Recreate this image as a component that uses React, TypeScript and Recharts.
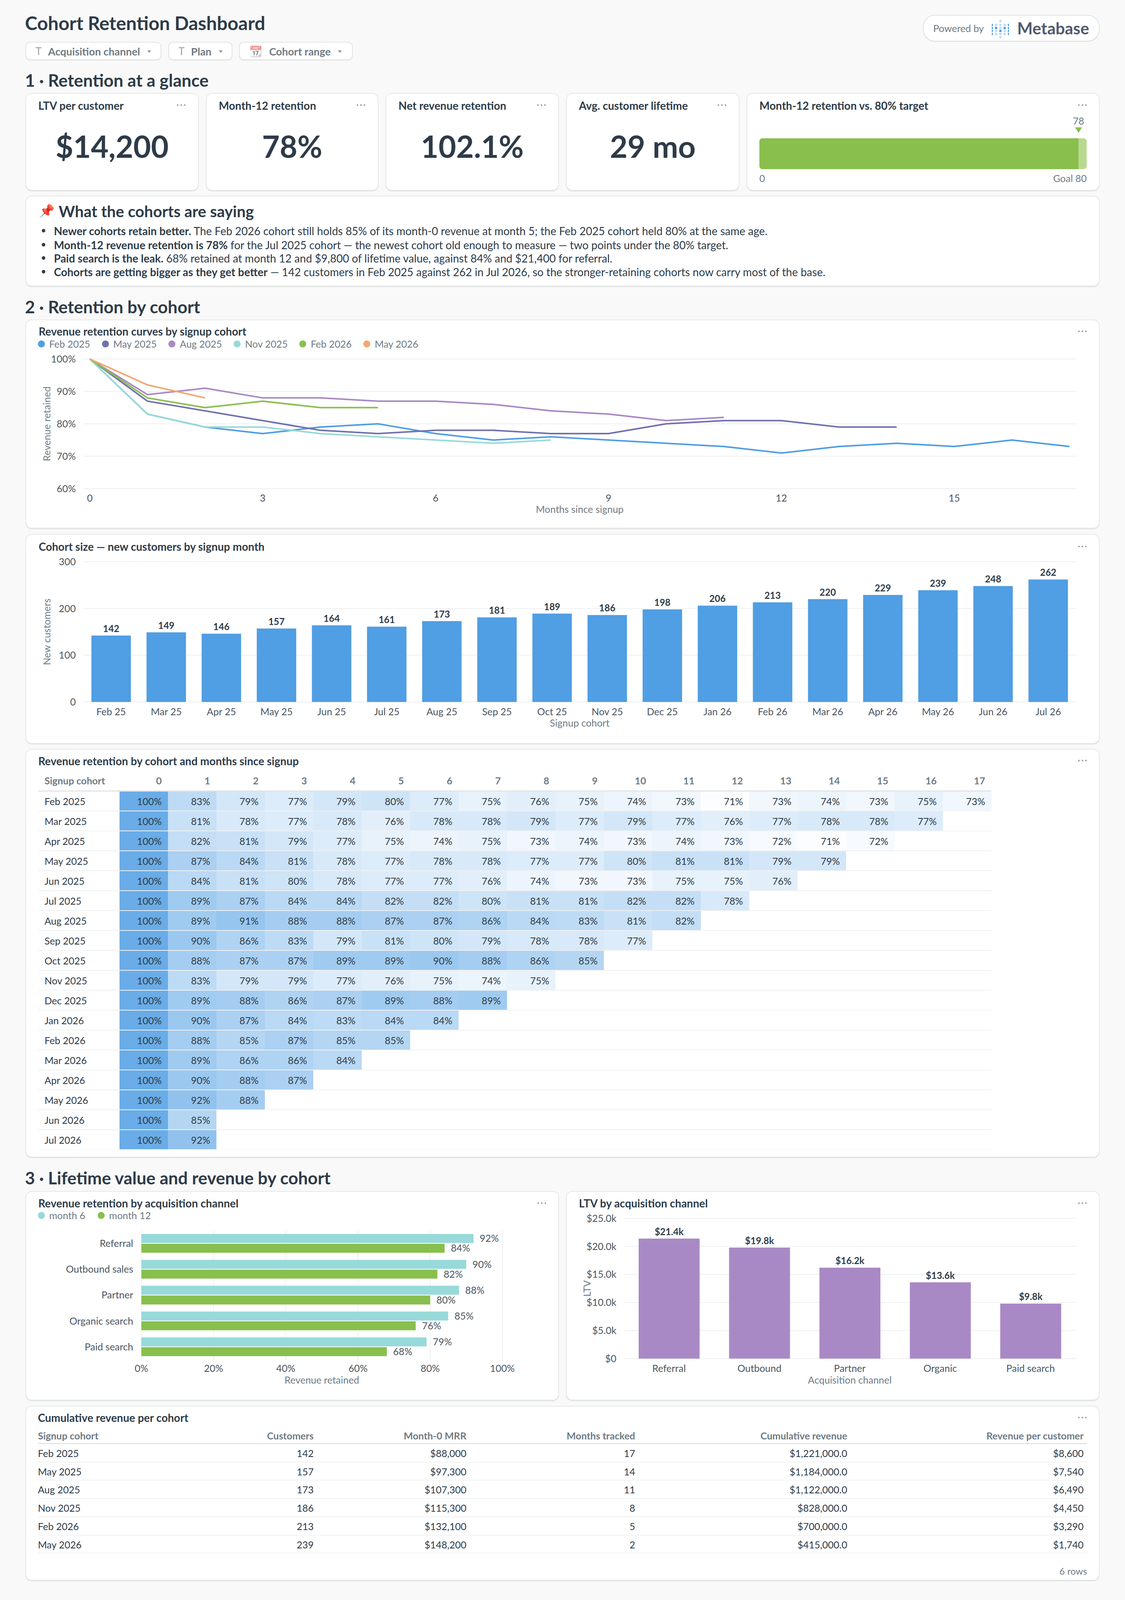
import React from 'react';
import {
  LineChart, Line, BarChart, Bar, XAxis, YAxis, CartesianGrid, LabelList, Label, Cell,
} from 'recharts';

// ---------- data ----------
const kpis = [
  { title: 'LTV per customer', value: '$14,200' },
  { title: 'Month-12 retention', value: '78%' },
  { title: 'Net revenue retention', value: '102.1%' },
  { title: 'Avg. customer lifetime', value: '29 mo' },
];
const gaugeValue = 78;
const gaugeGoal = 80;

const lineMonths = [0, 1, 2, 3, 4, 5, 6, 7, 8, 9, 10, 11, 12, 13, 14, 15, 16, 17];
const lineTicks = [0, 3, 6, 9, 12, 15];
const lineFeb25 = [100, 83, 79, 77, 79, 80, 77, 75, 76, 75, 74, 73, 71, 73, 74, 73, 75, 73];
const lineMay25 = [100, 87, 84, 81, 78, 77, 78, 78, 77, 77, 80, 81, 81, 79, 79];
const lineAug25 = [100, 89, 91, 88, 88, 87, 87, 86, 84, 83, 81, 82];
const lineNov25 = [100, 83, 79, 79, 77, 76, 75, 74, 75];
const lineFeb26 = [100, 88, 85, 87, 85, 85];
const lineMay26 = [100, 92, 88];
const lineSeries = [
  { name: 'Feb 2025', color: '#509EE3', values: lineFeb25 },
  { name: 'May 2025', color: '#7172AD', values: lineMay25 },
  { name: 'Aug 2025', color: '#A989C5', values: lineAug25 },
  { name: 'Nov 2025', color: '#98D9D9', values: lineNov25 },
  { name: 'Feb 2026', color: '#88BF4D', values: lineFeb26 },
  { name: 'May 2026', color: '#F2A86F', values: lineMay26 },
];

const sizeMonths = ['Feb 25', 'Mar 25', 'Apr 25', 'May 25', 'Jun 25', 'Jul 25', 'Aug 25', 'Sep 25', 'Oct 25', 'Nov 25', 'Dec 25', 'Jan 26', 'Feb 26', 'Mar 26', 'Apr 26', 'May 26', 'Jun 26', 'Jul 26'];
const sizeValues = [142, 149, 146, 157, 164, 161, 173, 181, 189, 186, 198, 206, 213, 220, 229, 239, 248, 262];

const heatCohorts = ['Feb 2025', 'Mar 2025', 'Apr 2025', 'May 2025', 'Jun 2025', 'Jul 2025', 'Aug 2025', 'Sep 2025', 'Oct 2025', 'Nov 2025', 'Dec 2025', 'Jan 2026', 'Feb 2026', 'Mar 2026', 'Apr 2026', 'May 2026', 'Jun 2026', 'Jul 2026'];
const heatFeb25 = [100, 83, 79, 77, 79, 80, 77, 75, 76, 75, 74, 73, 71, 73, 74, 73, 75, 73];
const heatMar25 = [100, 81, 78, 77, 78, 76, 78, 78, 79, 77, 79, 77, 76, 77, 78, 78, 77];
const heatApr25 = [100, 82, 81, 79, 77, 75, 74, 75, 73, 74, 73, 74, 73, 72, 71, 72];
const heatMay25 = [100, 87, 84, 81, 78, 77, 78, 78, 77, 77, 80, 81, 81, 79, 79];
const heatJun25 = [100, 84, 81, 80, 78, 77, 77, 76, 74, 73, 73, 75, 75, 76];
const heatJul25 = [100, 89, 87, 84, 84, 82, 82, 80, 81, 81, 82, 82, 78];
const heatAug25 = [100, 89, 91, 88, 88, 87, 87, 86, 84, 83, 81, 82];
const heatSep25 = [100, 90, 86, 83, 79, 81, 80, 79, 78, 78, 77];
const heatOct25 = [100, 88, 87, 87, 89, 89, 90, 88, 86, 85];
const heatNov25 = [100, 83, 79, 79, 77, 76, 75, 74, 75];
const heatDec25 = [100, 89, 88, 86, 87, 89, 88, 89];
const heatJan26 = [100, 90, 87, 84, 83, 84, 84];
const heatFeb26 = [100, 88, 85, 87, 85, 85];
const heatMar26 = [100, 89, 86, 86, 84];
const heatApr26 = [100, 90, 88, 87];
const heatMay26 = [100, 92, 88];
const heatJun26 = [100, 85];
const heatJul26 = [100, 92];
const heatRows = [heatFeb25, heatMar25, heatApr25, heatMay25, heatJun25, heatJul25, heatAug25, heatSep25, heatOct25, heatNov25, heatDec25, heatJan26, heatFeb26, heatMar26, heatApr26, heatMay26, heatJun26, heatJul26];
const heatColumns = lineMonths;

const channels = ['Referral', 'Outbound sales', 'Partner', 'Organic search', 'Paid search'];
const month6 = [92, 90, 88, 85, 79];
const month12 = [84, 82, 80, 76, 68];

const ltvChannels = ['Referral', 'Outbound', 'Partner', 'Organic', 'Paid search'];
const ltvValues = [21400, 19800, 16200, 13600, 9800];

const tableHeaders = ['Signup cohort', 'Customers', 'Month-0 MRR', 'Months tracked', 'Cumulative revenue', 'Revenue per customer'];
const tableCohorts = ['Feb 2025', 'May 2025', 'Aug 2025', 'Nov 2025', 'Feb 2026', 'May 2026'];
const tableCustomers = ['142', '157', '173', '186', '213', '239'];
const tableMrr = ['$88,000', '$97,300', '$107,300', '$115,300', '$132,100', '$148,200'];
const tableMonths = ['17', '14', '11', '8', '5', '2'];
const tableCumulative = ['$1,221,000.0', '$1,184,000.0', '$1,122,000.0', '$828,000.0', '$700,000.0', '$415,000.0'];
const tablePerCustomer = ['$8,600', '$7,540', '$6,490', '$4,450', '$3,290', '$1,740'];
const tableColumns = [tableCohorts, tableCustomers, tableMrr, tableMonths, tableCumulative, tablePerCustomer];

// ---------- style ----------
const DARK = '#2E3B48';
const MUTED = '#6E7A84';
const TICK = '#4A5560';
const GRID = '#EEEFF1';
const FONT = 'Lato, sans-serif';
const tickStyle = { fontSize: 25, fill: TICK, fontFamily: FONT };

// The browser's screen stops at 4096px, so the 5784px layout is fitted vertically into it.
const PAGE_H = 4096;
const sy = (v: number) => Math.round((v * PAGE_H) / 5784);
const ROW_H = 51;

// ---------- helpers ----------
function Txt({ x, y, right, center, size, weight = 400, color = DARK, children }: any) {
  const style: any = {
    position: 'absolute', top: y, fontSize: size, fontWeight: weight, color,
    lineHeight: 1, whiteSpace: 'nowrap', transform: 'translateY(-50%)',
  };
  if (right !== undefined) { style.right = 2880 - right; style.textAlign = 'right'; }
  else if (center !== undefined) { style.left = center; style.transform = 'translate(-50%,-50%)'; }
  else style.left = x;
  return <div style={style}>{children}</div>;
}
function Card({ x, y0, y1, w, r = 16 }: any) {
  return (
    <div style={{
      position: 'absolute', left: x, top: sy(y0), width: w, height: sy(y1) - sy(y0), boxSizing: 'border-box',
      background: '#fff', border: '2px solid #E6E8E8', borderRadius: r, boxShadow: '0 2px 1px #E2E4E4',
    }} />
  );
}
function Dots({ x, y }: any) {
  return (
    <svg style={{ position: 'absolute', left: x - 12, top: y - 4 }} width={24} height={8}>
      {[3, 12, 21].map((c) => <circle key={c} cx={c} cy={4} r={2} fill="#8E969D" />)}
    </svg>
  );
}
function Caret({ x, y }: any) {
  return (
    <svg style={{ position: 'absolute', left: x - 6, top: y - 4 }} width={12} height={8}>
      <path d="M1 1 L11 1 L6 7 Z" fill="#8B949B" />
    </svg>
  );
}
function Chip({ x, w, label, labelX, iconX, caretX, emoji }: any) {
  const cy = sy(185);
  return (
    <>
      <div style={{
        position: 'absolute', left: x, top: sy(151), width: w, height: sy(217) - sy(151), boxSizing: 'border-box',
        background: '#fff', border: '2px solid #E2E5E5', borderRadius: 12, boxShadow: '0 1px 1px #E2E4E4',
      }} />
      {emoji
        ? <div style={{ position: 'absolute', left: iconX - 14, top: cy - 14, fontSize: 27, lineHeight: 1, opacity: 0.55 }}>📆</div>
        : <Txt x={iconX - 7} y={cy} size={26} color="#9AA2A8">T</Txt>}
      <Txt x={labelX} y={cy} size={27} weight={700} color={MUTED}>{label}</Txt>
      <Caret x={caretX} y={cy + 1} />
    </>
  );
}
function Legend({ x, y, items, gap = 30 }: any) {
  return (
    <div style={{ position: 'absolute', left: x, top: y, transform: 'translateY(-50%)', display: 'flex', gap, alignItems: 'center' }}>
      {items.map((it: any) => (
        <div key={it.name} style={{ display: 'flex', alignItems: 'center', gap: 11 }}>
          <div style={{ width: 18, height: 18, borderRadius: 9, background: it.color }} />
          <div style={{ fontSize: 25, color: MUTED, lineHeight: 1 }}>{it.name}</div>
        </div>
      ))}
    </div>
  );
}
function Logo({ x, y }: any) {
  const rows = ['LLDLL', 'DLLLD', 'DDLDD', 'DLDLD', 'DLLLD', 'LLDLL'];
  const ys = [0, 9.8, 17.6, 25, 33, 41];
  const dots: any[] = [];
  rows.forEach((row, r) => {
    if (r === 0 || r === 5) {
      dots.push(<circle key={`c${r}`} cx={22} cy={ys[r] + 4} r={3.2} fill="#C5DCF3" />);
      return;
    }
    row.split('').forEach((c, i) => {
      dots.push(<circle key={`${r}-${i}`} cx={22 + (i - 2) * 11} cy={ys[r] + 4} r={3.2} fill={c === 'D' ? '#509EE3' : '#C5DCF3'} />);
    });
  });
  return <svg style={{ position: 'absolute', left: x, top: y }} width={44} height={50}>{dots}</svg>;
}
const xTitle = (text: string, dy: number) => (p: any) => (
  <text x={p.viewBox.x + p.viewBox.width / 2} y={p.viewBox.y + dy} textAnchor="middle" dominantBaseline="central" fontSize={25} fill={MUTED} fontFamily={FONT}>{text}</text>
);
const yTitle = (text: string, cx: number) => (p: any) => {
  const cy = p.viewBox.y + p.viewBox.height / 2;
  return (
    <text x={cx} y={cy} transform={`rotate(-90 ${cx} ${cy})`} textAnchor="middle" dominantBaseline="central" fontSize={25} fill={MUTED} fontFamily={FONT}>{text}</text>
  );
};
function heat(v: number) {
  const a = 0.02 + ((v - 71) / 29) * 0.84;
  return `rgba(80,158,227,${a.toFixed(3)})`;
}

// ---------- charts data tables ----------
const lineData = lineMonths.map((m) => {
  const row: any = { month: m };
  lineSeries.forEach((s) => { row[s.name] = s.values[m]; });
  return row;
});
const sizeData = sizeMonths.map((month, i) => ({ month, customers: sizeValues[i] }));
const heatData = heatCohorts.map((cohort, r) => {
  const row: any = { cohort };
  heatColumns.forEach((c) => {
    const v = heatRows[r][c];
    row[`s${c}`] = v === undefined ? 0 : 1;
    row[`v${c}`] = v === undefined ? null : v;
  });
  return row;
});
const channelData = channels.map((channel, i) => ({ channel, m6: month6[i], m12: month12[i] }));
const ltvData = ltvChannels.map((channel, i) => ({ channel, ltv: ltvValues[i] }));
const gaugeData = [{ name: 'Month-12', value: gaugeValue, rest: gaugeGoal - gaugeValue }];

const HeatYTick = (p: any) => (
  <g>
    {p.index === 0 && <line x1={34} x2={2474} y1={p.y - ROW_H / 2} y2={p.y - ROW_H / 2} stroke="#E2E4E5" strokeWidth={3} />}
    <line x1={34} x2={2474} y1={p.y + ROW_H / 2} y2={p.y + ROW_H / 2} stroke="#F0F1F2" strokeWidth={2} />
    <text x={50} y={p.y} dominantBaseline="central" fontSize={25} fill={DARK} fontFamily={FONT}>{p.payload.value}</text>
  </g>
);
const HeatXTick = (p: any) => (
  <text x={p.x - 16} y={sy(2822) - sy(2780)} textAnchor="end" dominantBaseline="central" fontSize={25} fontWeight={700} fill={MUTED} fontFamily={FONT}>{p.payload.value - 1}</text>
);
const HeatLabel = (p: any) => p.value == null ? null : (
  <text x={p.x + p.width - 16} y={p.y + p.height / 2} textAnchor="end" dominantBaseline="central" fontSize={25} fill={DARK} fontFamily={FONT}>{`${p.value}%`}</text>
);
const GaugeTick = (p: any) => {
  const isEnd = p.payload.value === gaugeGoal;
  return (
    <text x={p.x} y={p.y} textAnchor={isEnd ? 'end' : 'start'} dominantBaseline="central" fontSize={25} fill={MUTED} fontFamily={FONT}>
      {isEnd ? `Goal ${gaugeGoal}` : p.payload.value}
    </text>
  );
};
const GaugeMarker = (p: any) => {
  const cx = p.x + p.width;
  return (
    <g>
      <text x={cx} y={p.y - 45} textAnchor="middle" dominantBaseline="central" fontSize={25} fill={MUTED} fontFamily={FONT}>{p.value}</text>
      <path d={`M${cx - 9} ${p.y - 28} L${cx + 9} ${p.y - 28} L${cx} ${p.y - 14} Z`} fill="#88BF4D" />
    </g>
  );
};

const bullets = [
  ['Newer cohorts retain better.', ' The Feb 2026 cohort still holds 85% of its month-0 revenue at month 5; the Feb 2025 cohort held 80% at the same age.'],
  ['Month-12 revenue retention is 78%', ' for the Jul 2025 cohort — the newest cohort old enough to measure — two points under the 80% target.'],
  ['Paid search is the leak.', ' 68% retained at month 12 and $9,800 of lifetime value, against 84% and $21,400 for referral.'],
  ['Cohorts are getting bigger as they get better', ' — 142 customers in Feb 2025 against 262 in Jul 2026, so the stronger-retaining cohorts now carry most of the base.'],
];
const bulletYs = [835, 885, 933, 983];
const kpiCards = [[65, 444], [527, 442], [987, 444], [1449, 444]];
const tableRight = [0, 803, 1194, 1626, 2169, 2774];

const AXIS_H = sy(90) + 16;
const Chart = ({ left, top, children }: any) => <div style={{ position: 'absolute', left, top: sy(top) }}>{children}</div>;

export default function App() {
  return (
    <div style={{ position: 'relative', width: 2880, height: PAGE_H, background: '#F9F9F9', fontFamily: FONT, overflow: 'hidden' }}>
      <style>{'html,body{margin:0;padding:0;background:#F9F9F9;overflow:hidden}'}</style>
      <Txt x={64} y={sy(83)} size={48} weight={700}>Cohort Retention Dashboard</Txt>
      <Chip x={65} w={348} label="Acquisition channel" iconX={98} labelX={123} caretX={382} />
      <Chip x={431} w={164} label="Plan" iconX={464} labelX={489} caretX={565} />
      <Chip x={612} w={291} label="Cohort range" iconX={652} labelX={689} caretX={870} emoji />

      <div style={{ position: 'absolute', left: 2363, top: sy(53), width: 452, height: sy(149) - sy(53), boxSizing: 'border-box', background: '#fff', border: '2px solid #E2E5E5', borderRadius: 30, boxShadow: '0 1px 1px #E2E4E4' }} />
      <Txt x={2389} y={sy(102)} size={25} color={MUTED}>Powered by</Txt>
      <Logo x={2539} y={sy(71)} />
      <Txt x={2604} y={sy(102)} size={42} weight={700} color="#505A70">Metabase</Txt>

      <Txt x={64} y={sy(290)} size={44} weight={700}>1 · Retention at a glance</Txt>
      {kpis.map((k, i) => {
        const [x, w] = kpiCards[i];
        return (
          <React.Fragment key={k.title}>
            <Card x={x} y0={336} y1={689} w={w} />
            <Txt x={x + 33} y={sy(381)} size={28} weight={700}>{k.title}</Txt>
            <Dots x={x + w - 45} y={sy(380)} />
            <Txt center={x + w / 2} y={sy(528)} size={78} weight={700}>{k.value}</Txt>
          </React.Fragment>
        );
      })}
      <Card x={1911} y0={336} y1={689} w={904} />
      <Txt x={1944} y={sy(381)} size={28} weight={700}>Month-12 retention vs. 80% target</Txt>
      <Dots x={2771} y={sy(380)} />
      <Chart left={1944} top={400}>
        <BarChart width={838} height={sy(690) - sy(400)} data={gaugeData} layout="vertical" barCategoryGap={0} margin={{ top: sy(500) - sy(400), right: 0, bottom: 0, left: 0 }}>
          <XAxis type="number" domain={[0, gaugeGoal]} ticks={[0, gaugeGoal]} axisLine={false} tickLine={false} tickSize={0} tickMargin={23} tick={GaugeTick} height={sy(690) - sy(612)} interval={0} />
          <YAxis type="category" dataKey="name" hide />
          <Bar dataKey="value" stackId="g" fill="#88BF4D" radius={[8, 0, 0, 8]} isAnimationActive={false}>
            <LabelList dataKey="value" content={GaugeMarker} />
          </Bar>
          <Bar dataKey="rest" stackId="g" fill="#B8D98E" radius={[0, 8, 8, 0]} isAnimationActive={false} />
        </BarChart>
      </Chart>

      <Card x={65} y0={707} y1={1035} w={2750} />
      <div style={{ position: 'absolute', left: 100, top: sy(761) - 16, fontSize: 32, lineHeight: 1 }}>📌</div>
      <Txt x={150} y={sy(764)} size={40} weight={700}>What the cohorts are saying</Txt>
      {bullets.map(([b, t], i) => (
        <React.Fragment key={b}>
          <div style={{ position: 'absolute', left: 107, top: sy(bulletYs[i]) - 5, width: 9, height: 9, borderRadius: 5, background: DARK }} />
          <Txt x={138} y={sy(bulletYs[i])} size={28}><b>{b}</b>{t}</Txt>
        </React.Fragment>
      ))}

      <Txt x={64} y={sy(1108)} size={44} weight={700}>2 · Retention by cohort</Txt>
      <Card x={65} y0={1155} y1={1911} w={2750} />
      <Txt x={99} y={sy(1198)} size={28} weight={700}>Revenue retention curves by signup cohort</Txt>
      <Dots x={2771} y={sy(1198)} />
      <Legend x={97} y={sy(1243)} items={lineSeries} />
      <Chart left={64} top={1264}>
        <LineChart width={2752} height={sy(1766) + AXIS_H - sy(1264)} data={lineData} margin={{ top: sy(1298) - sy(1264), right: 62, bottom: 0, left: 0 }}>
          <CartesianGrid vertical={false} stroke={GRID} strokeWidth={2} />
          <XAxis dataKey="month" type="number" domain={[0, 17]} ticks={lineTicks} padding={{ left: 16, right: 16 }} axisLine={false} tickLine={false} tickSize={0} tickMargin={15} tick={tickStyle} height={AXIS_H} interval={0}>
            <Label content={xTitle('Months since signup', 52)} />
          </XAxis>
          <YAxis type="number" domain={[60, 100]} ticks={[60, 70, 80, 90, 100]} tickFormatter={(v: number) => `${v}%`} axisLine={false} tickLine={false} tickSize={0} tickMargin={20} tick={tickStyle} width={150}>
            <Label content={yTitle('Revenue retained', 55)} />
          </YAxis>
          {lineSeries.map((s) => (
            <Line key={s.name} dataKey={s.name} type="linear" stroke={s.color} strokeWidth={4} dot={false} isAnimationActive={false} />
          ))}
        </LineChart>
      </Chart>

      <Card x={65} y0={1931} y1={2689} w={2750} />
      <Txt x={99} y={sy(1975)} size={28} weight={700}>Cohort size — new customers by signup month</Txt>
      <Dots x={2771} y={sy(1975)} />
      <Chart left={64} top={2000}>
        <BarChart width={2752} height={sy(2537) + AXIS_H - sy(2000)} data={sizeData} margin={{ top: sy(2030) - sy(2000), right: 62, bottom: 0, left: 0 }}>
          <CartesianGrid vertical={false} stroke={GRID} strokeWidth={2} />
          <XAxis dataKey="month" axisLine={false} tickLine={false} tickSize={0} tickMargin={16} tick={tickStyle} height={AXIS_H} interval={0}>
            <Label content={xTitle('Signup cohort', 53)} />
          </XAxis>
          <YAxis type="number" domain={[0, 300]} ticks={[0, 100, 200, 300]} axisLine={false} tickLine={false} tickSize={0} tickMargin={20} tick={tickStyle} width={150}>
            <Label content={yTitle('New customers', 55)} />
          </YAxis>
          <Bar dataKey="customers" fill="#509EE3" barSize={101} isAnimationActive={false}>
            <LabelList dataKey="customers" position="top" offset={9} fill={DARK} fontSize={24} fontWeight={700} fontFamily={FONT} />
          </Bar>
        </BarChart>
      </Chart>

      <Card x={65} y0={2707} y1={4184} w={2750} />
      <Txt x={98} y={sy(2751)} size={28} weight={700}>Revenue retention by cohort and months since signup</Txt>
      <Dots x={2771} y={sy(2750)} />
      <Txt x={114} y={sy(2822)} size={25} weight={700} color={MUTED}>Signup cohort</Txt>
      <Chart left={64} top={2780}>
        <BarChart width={2484} height={sy(2859) - sy(2780) + ROW_H * heatCohorts.length} data={heatData} layout="vertical" barCategoryGap={1} margin={{ top: 0, right: 10, bottom: 0, left: 0 }}>
          <XAxis type="number" orientation="top" domain={[0, 18]} ticks={heatColumns.map((c) => c + 1)} axisLine={false} tickLine={false} tick={HeatXTick} height={sy(2859) - sy(2780)} interval={0} />
          <YAxis type="category" dataKey="cohort" axisLine={false} tickLine={false} tick={HeatYTick} width={242} interval={0} />
          {heatColumns.map((c) => (
            <Bar key={c} dataKey={`s${c}`} stackId="h" isAnimationActive={false}>
              {heatData.map((row: any) => <Cell key={row.cohort} fill={row[`v${c}`] == null ? 'none' : heat(row[`v${c}`])} />)}
              <LabelList dataKey={`v${c}`} content={HeatLabel} />
            </Bar>
          ))}
        </BarChart>
      </Chart>

      <Txt x={64} y={sy(4258)} size={44} weight={700}>3 · Lifetime value and revenue by cohort</Txt>
      <Card x={65} y0={4305} y1={5062} w={1366} />
      <Txt x={98} y={sy(4349)} size={28} weight={700}>Revenue retention by acquisition channel</Txt>
      <Dots x={1387} y={sy(4349)} />
      <Legend x={97} y={sy(4393)} gap={32} items={[{ name: 'month 6', color: '#98D9D9' }, { name: 'month 12', color: '#88BF4D' }]} />
      <Chart left={66} top={4430}>
        <BarChart width={1365} height={sy(4916) + AXIS_H - sy(4430)} data={channelData} layout="vertical" barGap={2} margin={{ top: sy(4448) - sy(4430), right: 145, bottom: 0, left: 0 }}>
          <CartesianGrid horizontal={false} stroke={GRID} strokeWidth={2} />
          <XAxis type="number" domain={[0, 100]} ticks={[0, 20, 40, 60, 80, 100]} tickFormatter={(v: number) => `${v}%`} axisLine={false} tickLine={false} tickSize={0} tickMargin={13} tick={tickStyle} height={AXIS_H} interval={0}>
            <Label content={xTitle('Revenue retained', 51)} />
          </XAxis>
          <YAxis type="category" dataKey="channel" axisLine={false} tickLine={false} tickSize={0} tickMargin={21} tick={tickStyle} width={296} interval={0} />
          <Bar dataKey="m6" fill="#98D9D9" barSize={23} isAnimationActive={false}>
            <LabelList dataKey="m6" position="right" offset={16} formatter={(v: number) => `${v}%`} fill={TICK} fontSize={25} fontFamily={FONT} />
          </Bar>
          <Bar dataKey="m12" fill="#88BF4D" barSize={23} isAnimationActive={false}>
            <LabelList dataKey="m12" position="right" offset={16} formatter={(v: number) => `${v}%`} fill={TICK} fontSize={25} fontFamily={FONT} />
          </Bar>
        </BarChart>
      </Chart>

      <Card x={1449} y0={4305} y1={5062} w={1366} />
      <Txt x={1482} y={sy(4349)} size={28} weight={700}>LTV by acquisition channel</Txt>
      <Dots x={2771} y={sy(4349)} />
      <Chart left={1449} top={4370}>
        <BarChart width={1366} height={sy(4912) + AXIS_H - sy(4370)} data={ltvData} margin={{ top: sy(4404) - sy(4370), right: 61, bottom: 0, left: 0 }}>
          <CartesianGrid vertical={false} stroke={GRID} strokeWidth={2} />
          <XAxis dataKey="channel" axisLine={false} tickLine={false} tickSize={0} tickMargin={16} tick={tickStyle} height={AXIS_H} interval={0}>
            <Label content={xTitle('Acquisition channel', 54)} />
          </XAxis>
          <YAxis type="number" domain={[0, 25000]} ticks={[0, 5000, 10000, 15000, 20000, 25000]} tickFormatter={(v: number) => v === 0 ? '$0' : `$${(v / 1000).toFixed(1)}k`} axisLine={false} tickLine={false} tickSize={0} tickMargin={19} tick={tickStyle} width={148}>
            <Label content={yTitle('LTV', 53)} />
          </YAxis>
          <Bar dataKey="ltv" fill="#A989C5" barSize={156} isAnimationActive={false}>
            <LabelList dataKey="ltv" position="top" offset={9} formatter={(v: number) => `$${(v / 1000).toFixed(1)}k`} fill={DARK} fontSize={24} fontWeight={700} fontFamily={FONT} />
          </Bar>
        </BarChart>
      </Chart>

      <Card x={65} y0={5082} y1={5714} w={2750} />
      <Txt x={97} y={sy(5125)} size={28} weight={700}>Cumulative revenue per cohort</Txt>
      <Dots x={2771} y={sy(5125)} />
      {tableHeaders.map((h, c) => c === 0
        ? <Txt key={h} x={97} y={sy(5190)} size={25} weight={700} color={MUTED}>{h}</Txt>
        : <Txt key={h} right={tableRight[c]} y={sy(5190)} size={25} weight={700} color={MUTED}>{h}</Txt>)}
      <div style={{ position: 'absolute', left: 97, top: sy(5218) - 1, width: 2686, height: 3, background: '#E2E4E5' }} />
      {tableCohorts.map((_, r) => (
        <React.Fragment key={r}>
          {tableColumns.map((col, c) => c === 0
            ? <Txt key={c} x={97} y={sy(5253 + r * 66)} size={25}>{col[r]}</Txt>
            : <Txt key={c} right={tableRight[c]} y={sy(5253 + r * 66)} size={25}>{col[r]}</Txt>)}
          <div style={{ position: 'absolute', left: 97, top: sy(5285 + r * 66) - 1, width: 2686, height: 2, background: '#F0F1F2' }} />
        </React.Fragment>
      ))}
      <Txt right={2783} y={sy(5680)} size={24} color={MUTED}>6 rows</Txt>
    </div>
  );
}
